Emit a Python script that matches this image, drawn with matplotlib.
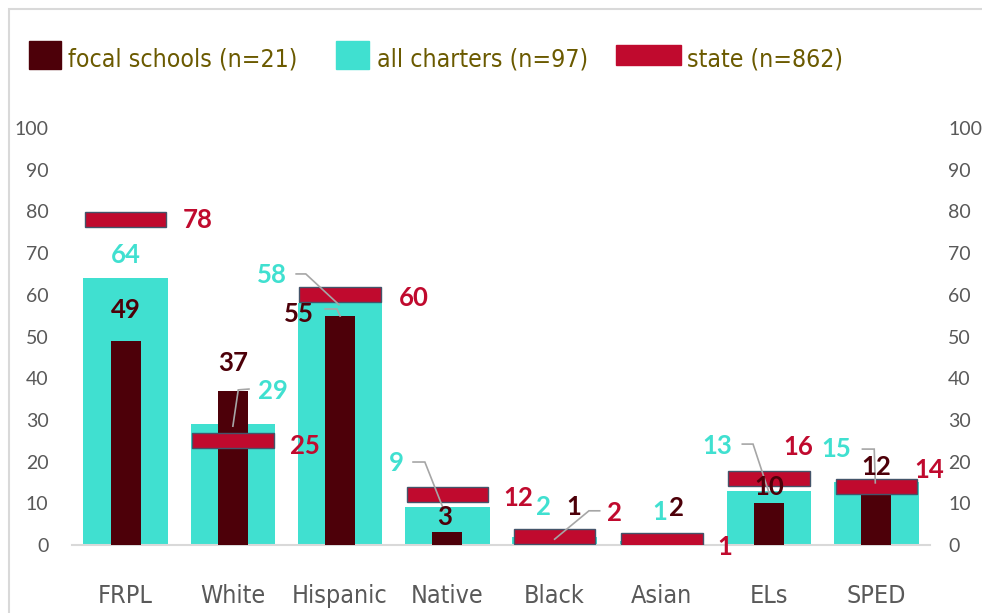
import matplotlib
matplotlib.use("Agg")
import matplotlib.pyplot as plt
from matplotlib import font_manager
from matplotlib.font_manager import FontProperties
from matplotlib.patches import Rectangle
import numpy as np

categories = ["FRPL", "White", "Hispanic", "Native", "Black", "Asian", "ELs", "SPED"]
focal = [49, 37, 55, 3, 1, 2, 10, 12]
charters = [64, 29, 58, 9, 2, 1, 13, 15]
state = [78, 25, 60, 12, 2, 1, 16, 14]
legend_labels = ["focal schools (n=21)", "all charters (n=97)", "state (n=862)"]
yticks = list(range(0, 101, 10))

FOCAL_C = "#4D0009"
CHARTER_C = "#40E0D0"
STATE_C = "#C00A2E"
LEGEND_TXT = "#6B5A00"
TICK_C = "#595959"
LEADER_C = "#A6A6A6"
LABEL_FONT = ["Lato", "DejaVu Sans"]

# data label placement (dx from category centre, y in data units)
focal_pos = [(0, 56.4), (0, 43.6), (-0.38, 55.5), (-0.03, 6.7), (0.18, 9.1), (0.14, 8.9), (0, 13.9), (0, 18.7)]
charter_pos = [(0, 69.5), (0.37, 37.0), (-0.64, 64.8), (-0.48, 19.7), (-0.1, 9.1), (-0.02, 7.9), (-0.48, 23.7), (-0.37, 23.0)]
state_pos = [(0.67, 78.0), (0.67, 23.8), (0.69, 59.2), (0.66, 11.3), (0.56, 7.7), (0.59, -0.5), (0.27, 23.5), (0.49, 18.0)]

# leader lines: category index, polyline (dx, y)
leaders = [
    (1, [(0.15, 37.4), (0.05, 37.2), (0.0, 28.5)]),
    (2, [(-0.41, 65.0), (-0.32, 65.0), (-0.01, 57.6)]),
    (2, [(-0.14, 56.6), (-0.03, 56.6), (0.0, 54.9)]),
    (3, [(-0.32, 19.9), (-0.21, 19.9), (-0.03, 8.2)]),
    (4, [(0.42, 8.2), (0.32, 8.2), (0.0, 1.4)]),
    (6, [(-0.25, 24.2), (-0.15, 24.2), (0.0, 12.5)]),
    (7, [(-0.13, 23.0), (-0.02, 23.0), (-0.01, 14.9)]),
]


def narrow_font():
    """Find the most suitable condensed sans font that is installed."""
    stretch_num = {"ultra-condensed": 100, "extra-condensed": 200, "condensed": 300,
                   "semi-condensed": 400, "normal": 500}
    best, best_score = None, None
    for f in font_manager.fontManager.ttflist:
        st = f.stretch
        st = stretch_num.get(st, 500) if isinstance(st, str) else int(st)
        nm = f.name.lower()
        if "narrow" in nm or "condensed" in nm:
            st = min(st, 300)
        if st >= 500 or f.style != "normal":
            continue
        w = f.weight if isinstance(f.weight, int) else 400
        score = abs(st - 200) + abs(w - 400) / 2
        if best_score is None or score < best_score:
            best, best_score = f, score
    if best is None:
        return FontProperties(family="DejaVu Sans")
    return FontProperties(fname=best.fname)


NARROW = narrow_font()

W, H = 982, 613
fig = plt.figure(figsize=(W / 100, H / 100), dpi=100)
fig.subplots_adjust(left=72 / W, right=930 / W, bottom=1 - 545 / H, top=1 - 128 / H)
ax = fig.add_subplot(111)
renderer = fig.canvas.get_renderer()


def fit_size(text, width_px):
    t = fig.text(0, 0, text, fontproperties=NARROW, fontsize=10)
    w = t.get_window_extent(renderer).width
    t.remove()
    return 10 * width_px / w


x = np.arange(len(categories))
ax.bar(x, charters, width=0.79, color=CHARTER_C, zorder=2)
ax.bar(x, focal, width=0.28, color=FOCAL_C, zorder=3)
state_arr = np.array(state, dtype=float)
ax.bar(x, 3.6, bottom=state_arr - 1.8, width=0.76, color=STATE_C,
       edgecolor="#44546A", linewidth=1.0, zorder=4)

for i in range(len(categories)):
    for vals, pos, col in ((focal, focal_pos, FOCAL_C),
                           (charters, charter_pos, CHARTER_C),
                           (state, state_pos, STATE_C)):
        dx, yy = pos[i]
        ax.text(i + dx, yy, str(vals[i]), color=col, fontsize=18.5, fontweight="bold",
                family=LABEL_FONT, ha="center", va="center", zorder=6, clip_on=False)

for i, pts in leaders:
    ax.plot([i + p[0] for p in pts], [p[1] for p in pts], color=LEADER_C, lw=1.2,
            zorder=5, solid_joinstyle="miter")

cat_size = min(fit_size("Hispanic", 96), 28)
ax.set_xlim(-0.5, len(categories) - 0.5)
ax.set_ylim(0, 100)
ax.set_xticks(x)
ax.set_xticklabels(categories, fontproperties=NARROW, color=TICK_C, va="baseline")
for t in ax.get_xticklabels():
    t.set_fontsize(cat_size)
ax.set_yticks(yticks)
ax.set_yticklabels([str(v) for v in yticks], family=LABEL_FONT)
ax.tick_params(axis="y", length=0, pad=17, labelsize=14, labelcolor=TICK_C)
ax.tick_params(axis="x", length=0, pad=42)
for s in ("top", "right", "left"):
    ax.spines[s].set_visible(False)
ax.spines["bottom"].set_color("#D9D9D9")
ax.spines["bottom"].set_linewidth(1.5)

ax2 = ax.twinx()
ax2.set_ylim(0, 100)
ax2.set_yticks(yticks)
ax2.set_yticklabels([str(v) for v in yticks], family=LABEL_FONT)
ax2.tick_params(axis="y", length=0, pad=13, labelsize=14, labelcolor=TICK_C)
for s in ax2.spines.values():
    s.set_visible(False)

# legend drawn at figure level
legend_items = [
    (FOCAL_C, (29, 41, 32, 28), 68),
    (CHARTER_C, (336, 41, 33, 28), 377),
    (STATE_C, (616, 45, 65, 20), 687),
]
leg_size = min(fit_size(legend_labels[0], 229), 26)
for (col, (px, py, pw, ph), tx), lab in zip(legend_items, legend_labels):
    fig.add_artist(Rectangle((px / W, 1 - (py + ph) / H), pw / W, ph / H,
                             transform=fig.transFigure, color=col))
    fig.text(tx / W, 1 - 59 / H, lab, fontproperties=NARROW, fontsize=leg_size,
             color=LEGEND_TXT, ha="left", va="center")

# chart border (clipped at right/bottom)
fig.add_artist(Rectangle((9 / W, -0.1), 1.2, 1 - 9 / H + 0.1, transform=fig.transFigure,
                         fill=False, edgecolor="#D9D9D9", linewidth=1.5))

fig.savefig("out.png", dpi=100)
